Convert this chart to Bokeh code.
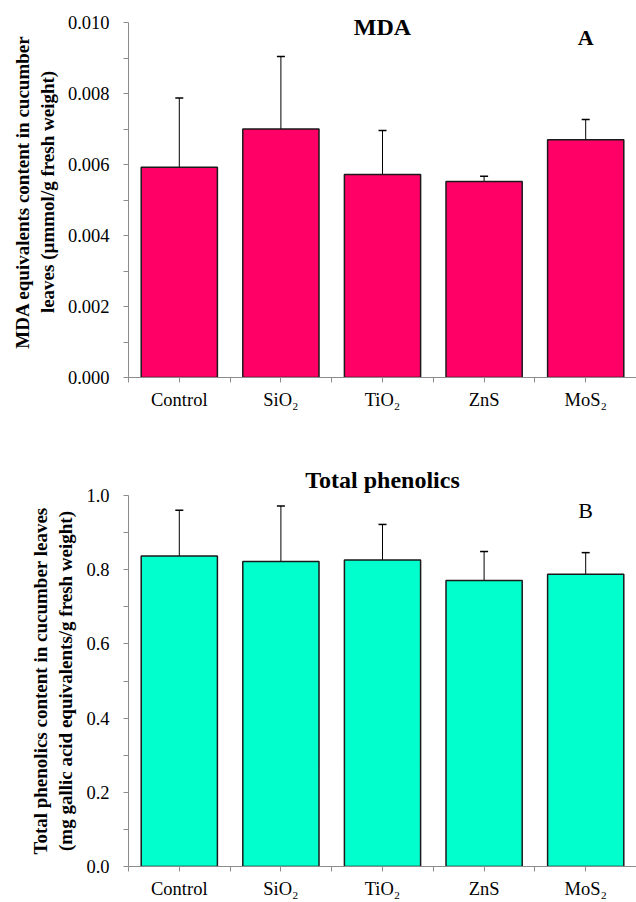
from bokeh.plotting import figure
from bokeh.models import (ColumnDataSource, FixedTicker, Whisker, TeeHead, Label,
                          PrintfTickFormatter, Range1d, Title)
from bokeh.layouts import column
from bokeh.embed import file_html
from bokeh.resources import INLINE

# ---------------- data ----------------
categories = ["Control", "SiO\u2082", "TiO\u2082", "ZnS", "MoS\u2082"]

mda_mean = [0.00592, 0.00700, 0.00572, 0.00552, 0.00670]
mda_err = [0.00195, 0.00204, 0.00124, 0.00015, 0.00057]

phen_mean = [0.837, 0.822, 0.826, 0.771, 0.788]
phen_err = [0.123, 0.150, 0.096, 0.078, 0.058]

mda_ticks = [0.000, 0.002, 0.004, 0.006, 0.008, 0.010]
mda_minor = [0.001, 0.003, 0.005, 0.007, 0.009]
phen_ticks = [0.0, 0.2, 0.4, 0.6, 0.8, 1.0]
phen_minor = [0.1, 0.3, 0.5, 0.7, 0.9]

FONT = "Liberation Serif"
PINK = "#FF0066"
AQUA = "#00FFCC"
AXIS_GRAY = "#8c8c8c"

xs = list(range(1, len(categories) + 1))
x_minor = [x - 0.5 for x in xs]


def make_panel(mean, err, color, yticks, yminor, yend, ybounds, fmt, ylabel,
               height, b_top, b_bottom, title=None):
    p = figure(width=636, height=height, output_backend="svg",
               toolbar_location=None, x_range=Range1d(0.5, 5.5),
               y_range=Range1d(0, yend), min_border_left=128,
               min_border_right=0, min_border_top=b_top,
               min_border_bottom=b_bottom)
    if title is not None:
        t = Title(text=title, align="center", text_font=FONT,
                  text_font_size="24px", text_font_style="bold",
                  text_color="black", standoff=6)
        p.add_layout(t, "above")
    p.outline_line_color = None
    p.xgrid.grid_line_color = None
    p.ygrid.grid_line_color = None

    src = ColumnDataSource(dict(x=xs, top=mean,
                                upper=[m + e for m, e in zip(mean, err)]))
    p.vbar(x="x", top="top", bottom=0, width=0.75, source=src,
           fill_color=color, line_color="#1a1a1a", line_width=1.5)
    w = Whisker(base="x", lower="top", upper="upper", source=src,
                dimension="height", line_color="black", line_width=1,
                upper_head=TeeHead(size=8, line_color="black", line_width=1.5),
                lower_head=None)
    p.add_layout(w)

    # x axis
    xa = p.xaxis[0]
    xa.ticker = FixedTicker(ticks=xs, minor_ticks=x_minor)
    xa.major_label_overrides = {x: c for x, c in zip(xs, categories)}
    xa.axis_line_color = AXIS_GRAY
    xa.major_tick_line_color = AXIS_GRAY
    xa.minor_tick_line_color = AXIS_GRAY
    xa.major_tick_in = 0
    xa.major_tick_out = 5
    xa.minor_tick_in = 0
    xa.minor_tick_out = 5
    xa.major_label_text_font = FONT
    xa.major_label_text_font_size = "18.5px"
    xa.major_label_text_color = "black"
    xa.major_label_standoff = 7

    # y axis
    ya = p.yaxis[0]
    ya.ticker = FixedTicker(ticks=yticks, minor_ticks=yminor)
    ya.formatter = PrintfTickFormatter(format=fmt)
    ya.bounds = ybounds
    ya.axis_line_color = AXIS_GRAY
    ya.major_tick_line_color = AXIS_GRAY
    ya.minor_tick_line_color = AXIS_GRAY
    ya.major_tick_in = 0
    ya.major_tick_out = 5
    ya.minor_tick_in = 0
    ya.minor_tick_out = 5
    ya.major_label_text_font = FONT
    ya.major_label_text_font_size = "18.5px"
    ya.major_label_text_color = "black"
    ya.major_label_standoff = 14
    ya.axis_label = ylabel
    ya.axis_label_text_font = FONT
    ya.axis_label_text_font_size = "19px"
    ya.axis_label_text_font_style = "bold"
    ya.axis_label_text_color = "black"
    ya.axis_label_standoff = 7
    return p


# top panel: range extended a little above 0.010 so the "MDA" text is not clipped;
# the axis line itself is bounded to 0..0.010
p1 = make_panel(mda_mean, mda_err, PINK, mda_ticks, mda_minor, 0.010451, (0, 0.010),
                "%.3f",
                "MDA equivalents content in cucumber\nleaves (\u00b5mmol/g fresh weight)",
                418, 6, 41)
p1.add_layout(Label(x=3, y=0.00986, text="MDA", text_font=FONT,
                    text_font_size="24px", text_font_style="bold",
                    text_align="center", text_baseline="middle",
                    text_color="black"))
p1.add_layout(Label(x=5, y=0.00958, text="A", text_font=FONT,
                    text_font_size="22px", text_font_style="bold",
                    text_align="center", text_baseline="middle",
                    text_color="black"))

p2 = make_panel(phen_mean, phen_err, AQUA, phen_ticks, phen_minor, 1.0, (0, 1.0),
                "%.1f",
                "Total phenolics content in cucumber leaves\n(mg gallic acid equivalents/g fresh weight)",
                483, 77, 31, title="Total phenolics")
p2.add_layout(Label(x=5, y=0.96, text="B", text_font=FONT,
                    text_font_size="22px", text_align="center",
                    text_baseline="middle", text_color="black"))

layout = column(p1, p2)
open("out.html", "w").write(file_html(layout, INLINE))
